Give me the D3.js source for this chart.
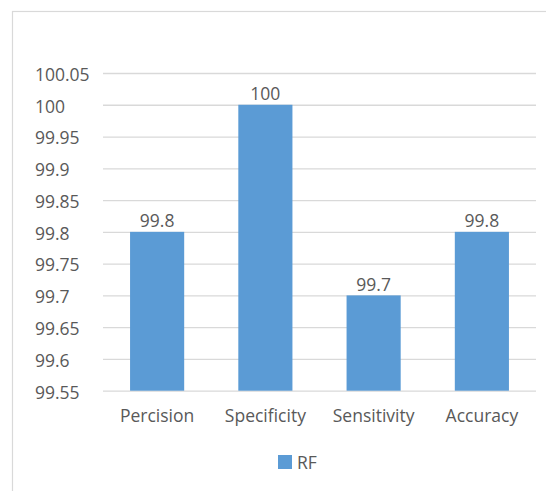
<!DOCTYPE html>
<html><head><meta charset="utf-8">
<script src="https://cdn.jsdelivr.net/npm/d3@7"></script>
<style>body{margin:0;background:#fff}svg{display:block}text{font-family:"Open Sans",sans-serif;fill:#595959}</style>
</head><body>
<svg id="c" width="546" height="491"></svg>
<script>
const categories = ["Percision", "Specificity", "Sensitivity", "Accuracy"];
const values = [99.8, 100, 99.7, 99.8];
const seriesName = "RF";
const yTicks = [99.55, 99.6, 99.65, 99.7, 99.75, 99.8, 99.85, 99.9, 99.95, 100, 100.05];

const svg = d3.select("#c");
const fs = 17.5;
// outer border
svg.append("rect").attr("x", 12.5).attr("y", 11.5).attr("width", 560).attr("height", 500)
  .attr("fill", "none").attr("stroke", "#d9d9d9").attr("stroke-width", 1.2);

const x = d3.scaleBand().domain(categories).range([103, 536]).padding(0.5).paddingOuter(0.25);
const y = d3.scaleLinear().domain([99.55, 100.05]).range([390.7, 73]);

// gridlines
const yAxis = d3.axisLeft(y).tickValues(yTicks).tickSize(-(536 - 103)).tickFormat(d3.format(""));
const gy = svg.append("g").attr("transform", "translate(103,0)").call(yAxis);
gy.select(".domain").remove();
gy.selectAll(".tick line").attr("stroke", "#d9d9d9").attr("stroke-width", 1.3);
gy.selectAll(".tick text").attr("x", 35 - 103).attr("text-anchor", "start")
  .attr("dy", "0.42em").style("font-size", fs + "px").attr("fill", "#595959");

// bars
svg.append("g").selectAll("rect").data(values).join("rect")
  .attr("x", (d, i) => x(categories[i]))
  .attr("width", x.bandwidth())
  .attr("y", d => y(d))
  .attr("height", d => y(99.55) - y(d))
  .attr("fill", "#5b9bd5");

// data labels
svg.append("g").selectAll("text").data(values).join("text")
  .attr("x", (d, i) => x(categories[i]) + x.bandwidth() / 2)
  .attr("y", d => y(d) - 4.5)
  .attr("text-anchor", "middle")
  .style("font-size", fs + "px")
  .attr("fill", "#404040")
  .text(d => d3.format("")(d));

// x axis labels
const xAxis = d3.axisBottom(x).tickSize(0).tickPadding(0);
const gx = svg.append("g").attr("transform", "translate(0,390.7)").call(xAxis);
gx.select(".domain").remove();
gx.selectAll(".tick text").attr("y", 0).attr("dy", 31).style("font-size", fs + "px").attr("fill", "#595959");

// legend
const lg = svg.append("g").attr("transform", "translate(278,455)");
lg.append("rect").attr("width", 14).attr("height", 14).attr("fill", "#5b9bd5");
lg.append("text").attr("x", 19).attr("y", 13.5).style("font-size", fs + "px").attr("fill", "#595959").text(seriesName);
</script>
</body></html>
